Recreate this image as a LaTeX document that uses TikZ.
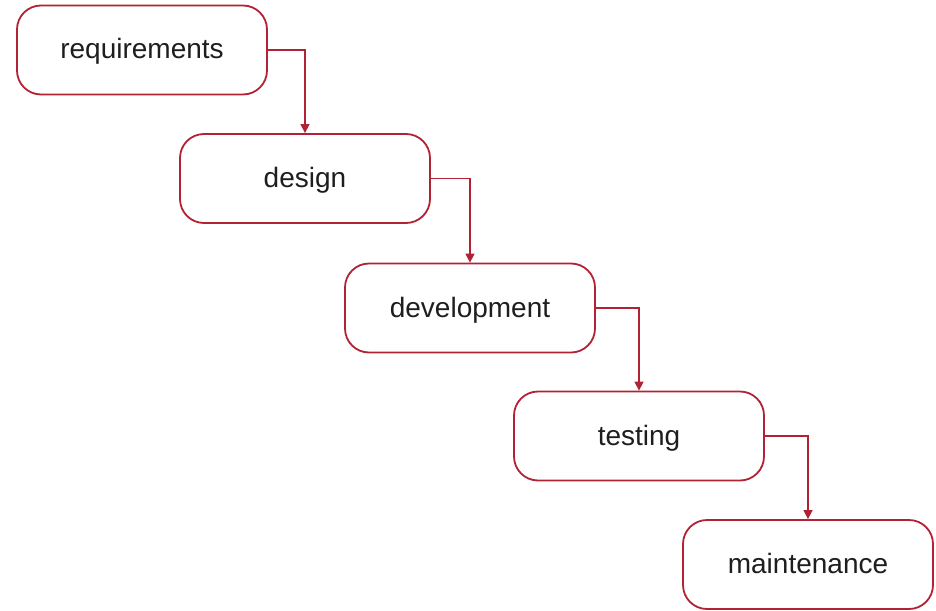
\documentclass[tikz,border=0pt]{standalone}
\usepackage{fontspec}
\setmainfont{Liberation Sans}
\usetikzlibrary{arrows.meta}
\definecolor{boxred}{RGB}{178,34,52}
\definecolor{txt}{RGB}{30,30,30}
\begin{document}
\begin{tikzpicture}[x=1pt,y=1pt,
  phase/.style={draw=boxred, line width=1.8pt, rounded corners=24pt, fill=white,
    minimum width=250pt, minimum height=89pt, inner sep=0pt,
    text height=18pt, text depth=0pt,
    font=\fontsize{28}{32}\selectfont, text=txt},
  flow/.style={draw=boxred, line width=1.4pt, -{Triangle[length=9pt,width=9pt]}}]
\useasboundingbox (0,0) rectangle (936,-610);
\node[phase] (req) at (142,-50) {requirements};
\node[phase] (des) at (305,-178.5) {design};
\node[phase] (dev) at (470,-308) {development};
\node[phase] (tst) at (639,-436) {testing};
\node[phase] (mnt) at (808,-564.5) {maintenance};
\draw[flow] (req.east) -| (des.north);
\draw[flow] (des.east) -| (dev.north);
\draw[flow] (dev.east) -| (tst.north);
\draw[flow] (tst.east) -| (mnt.north);
\end{tikzpicture}
\end{document}
